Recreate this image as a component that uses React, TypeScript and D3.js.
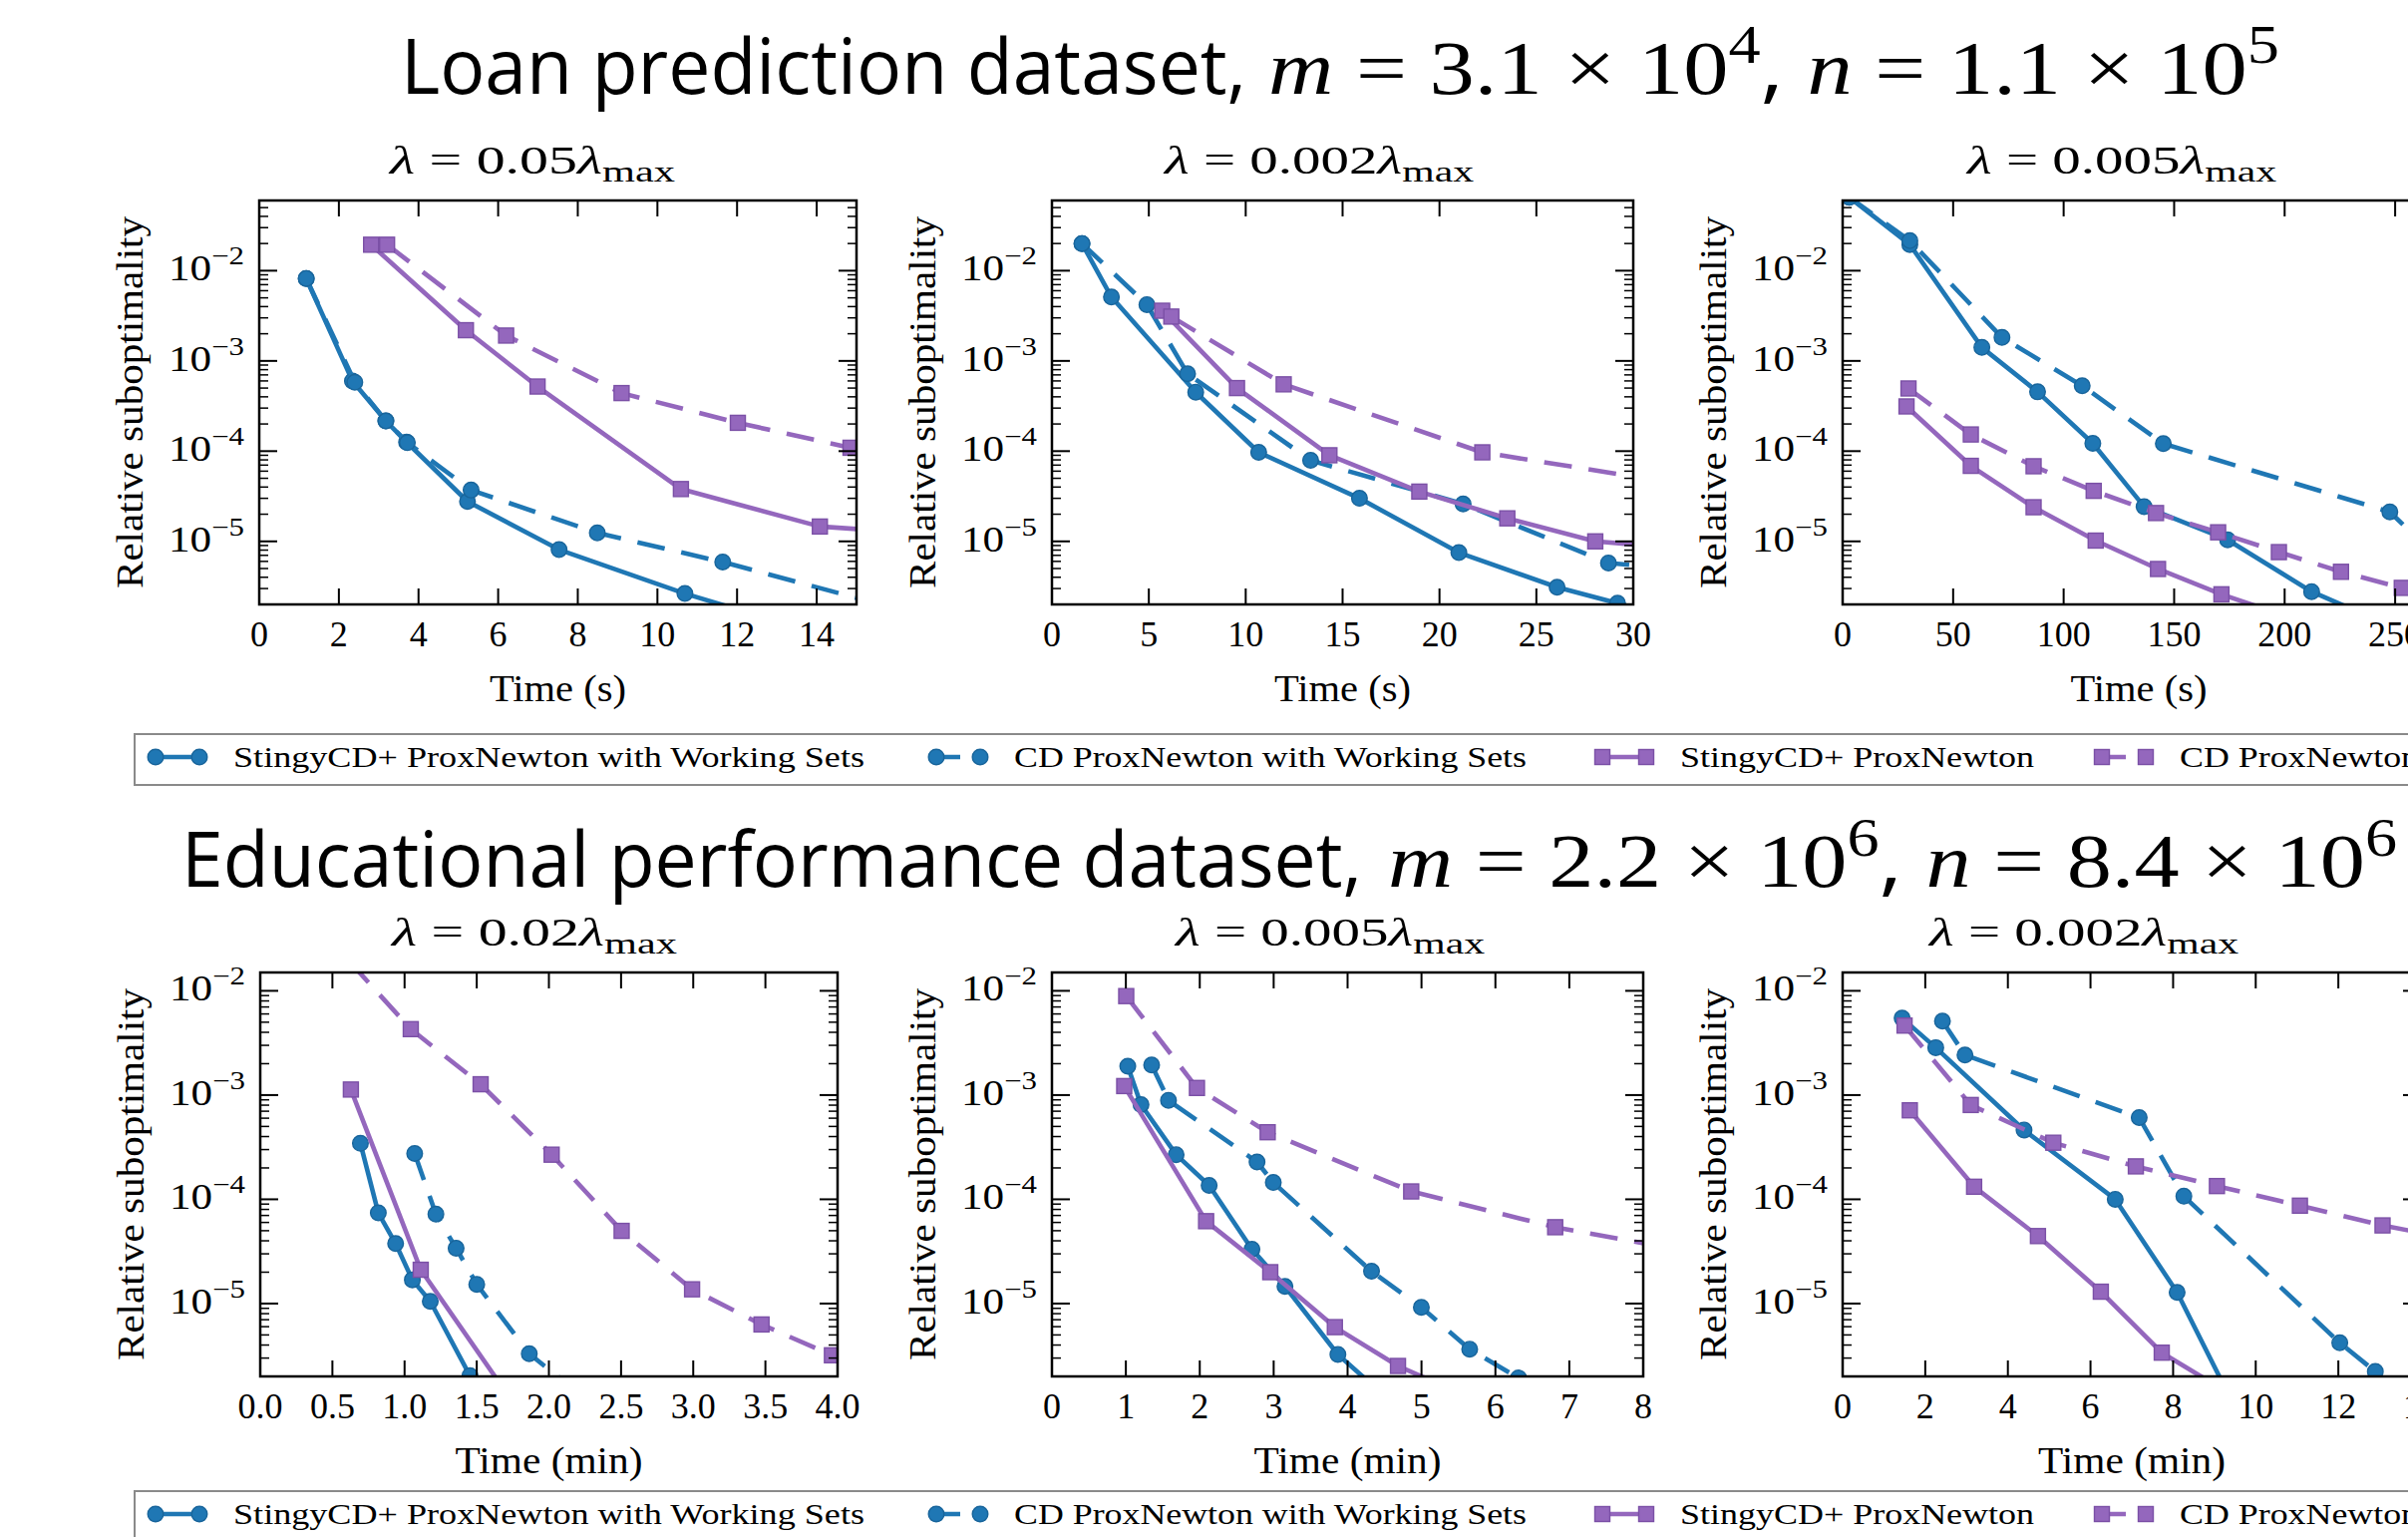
import * as d3 from "d3";

type Pt = [number, number];

// Loan prediction dataset, λ = 0.05 λmax (time in s)
const loanA_stingyWS: Pt[] = [[1.18, 8.2e-3], [2.34, 6.0e-4], [3.18, 2.16e-4], [3.7, 1.26e-4], [5.23, 2.77e-5], [7.53, 8.1e-6], [10.69, 2.64e-6], [13.7, 1.05e-6]];
const loanA_cdWS: Pt[] = [[1.18, 8.2e-3], [2.4, 5.8e-4], [3.18, 2.16e-4], [3.72, 1.24e-4], [5.32, 3.7e-5], [8.49, 1.24e-5], [11.64, 5.9e-6], [15.8, 1.9e-6]];
const loanA_stingy: Pt[] = [[2.81, 1.94e-2], [5.19, 2.19e-3], [6.99, 5.2e-4], [10.59, 3.8e-5], [14.08, 1.46e-5], [17, 1.2e-5]];
const loanA_cd: Pt[] = [[3.21, 1.94e-2], [6.2, 1.91e-3], [9.1, 4.4e-4], [12.02, 2.06e-4], [14.85, 1.09e-4]];

// Loan prediction dataset, λ = 0.002 λmax
const loanB_stingyWS: Pt[] = [[1.55, 2.0e-2], [3.07, 5.1e-3], [7.42, 4.5e-4], [10.67, 9.7e-5], [15.87, 3.0e-5], [21.0, 7.5e-6], [26.07, 3.1e-6], [29.19, 2.06e-6], [32, 1.4e-6]];
const loanB_cdWS: Pt[] = [[1.55, 2.0e-2], [4.9, 4.2e-3], [7.0, 7.2e-4], [13.35, 7.9e-5], [21.22, 2.6e-5], [28.72, 5.75e-6], [32, 5.0e-6]];
const loanB_stingy: Pt[] = [[5.69, 3.6e-3], [9.55, 5.0e-4], [14.32, 9.0e-5], [18.96, 3.56e-5], [23.5, 1.8e-5], [28.04, 1.0e-5], [32, 8.5e-6]];
const loanB_cd: Pt[] = [[6.16, 3.1e-3], [11.96, 5.5e-4], [22.21, 9.7e-5], [32.5, 4.3e-5]];

// Loan prediction dataset, λ = 0.005 λmax
const loanC_stingyWS: Pt[] = [[3, 6.5e-2], [30.4, 1.95e-2], [63.0, 1.41e-3], [88.2, 4.54e-4], [113.2, 1.22e-4], [136.4, 2.43e-5], [174.2, 1.04e-5], [212.2, 2.77e-6], [250, 1.1e-6]];
const loanC_cdWS: Pt[] = [[3, 6.5e-2], [30.4, 2.15e-2], [72.1, 1.82e-3], [108.4, 5.3e-4], [145.1, 1.21e-4], [247.6, 2.12e-5], [268, 7e-6]];
const loanC_stingy: Pt[] = [[28.9, 3.13e-4], [58.0, 6.87e-5], [86.4, 2.39e-5], [114.5, 1.02e-5], [142.7, 4.94e-6], [171.4, 2.59e-6], [200, 1.5e-6]];
const loanC_cd: Pt[] = [[29.8, 4.95e-4], [58.0, 1.53e-4], [86.4, 6.8e-5], [113.6, 3.63e-5], [141.8, 2.06e-5], [169.9, 1.26e-5], [197.4, 7.6e-6], [225.5, 4.6e-6], [253.0, 3.05e-6]];

// Educational performance dataset, λ = 0.02 λmax (time in min)
const eduA_stingyWS: Pt[] = [[0.694, 3.44e-4], [0.818, 7.4e-5], [0.938, 3.76e-5], [1.054, 1.69e-5], [1.178, 1.05e-5], [1.453, 2.03e-6], [1.6, 1.0e-6]];
const eduA_cdWS: Pt[] = [[1.07, 2.75e-4], [1.217, 7.2e-5], [1.357, 3.4e-5], [1.5, 1.53e-5], [1.864, 3.3e-6], [2.2, 1.4e-6]];
const eduA_stingy: Pt[] = [[0.628, 1.13e-3], [1.112, 2.11e-5], [1.8, 9e-7]];
const eduA_cd: Pt[] = [[0.62, 1.9e-2], [1.043, 4.29e-3], [1.527, 1.27e-3], [2.019, 2.68e-4], [2.504, 4.98e-5], [2.992, 1.37e-5], [3.473, 6.3e-6], [3.961, 3.19e-6]];

// Educational performance dataset, λ = 0.005 λmax
const eduB_stingyWS: Pt[] = [[1.026, 1.89e-3], [1.205, 8.1e-4], [1.68, 2.68e-4], [2.127, 1.36e-4], [2.706, 3.32e-5], [3.153, 1.46e-5], [3.869, 3.25e-6], [4.5, 1.3e-6]];
const eduB_cdWS: Pt[] = [[1.349, 1.94e-3], [1.577, 8.9e-4], [2.775, 2.28e-4], [2.995, 1.45e-4], [4.324, 2.04e-5], [4.998, 9.2e-6], [5.652, 3.65e-6], [6.313, 1.93e-6], [6.8, 1.2e-6]];
const eduB_stingy: Pt[] = [[0.978, 1.22e-3], [2.086, 6.17e-5], [2.954, 2.0e-5], [3.828, 5.94e-6], [4.682, 2.52e-6], [5.4, 1.5e-6]];
const eduB_cd: Pt[] = [[1.005, 8.9e-3], [1.962, 1.17e-3], [2.919, 4.4e-4], [4.861, 1.19e-4], [6.809, 5.4e-5], [8.8, 3.0e-5]];

// Educational performance dataset, λ = 0.002 λmax
const eduC_stingyWS: Pt[] = [[1.44, 5.46e-3], [2.254, 2.85e-3], [4.391, 4.62e-4], [6.599, 1.0e-4], [8.097, 1.28e-5], [9.5, 1.0e-6]];
const eduC_cdWS: Pt[] = [[2.416, 5.12e-3], [2.962, 2.42e-3], [7.179, 6.07e-4], [8.26, 1.07e-4], [12.035, 4.2e-6], [12.895, 2.23e-6], [13.6, 1.0e-6]];
const eduC_stingy: Pt[] = [[1.626, 7.14e-4], [3.183, 1.32e-4], [4.728, 4.44e-5], [6.25, 1.3e-5], [7.725, 3.38e-6], [9.2, 1.5e-6]];
const eduC_cd: Pt[] = [[1.499, 4.64e-3], [3.102, 8.03e-4], [5.1, 3.49e-4], [7.098, 2.07e-4], [9.061, 1.34e-4], [11.07, 8.69e-5], [13.07, 5.62e-5], [15, 4.0e-5]];

const seriesNames = [
  "StingyCD+ ProxNewton with Working Sets",
  "CD ProxNewton with Working Sets",
  "StingyCD+ ProxNewton",
  "CD ProxNewton",
];
const seriesColors = ["#1f77b4", "#1f77b4", "#9467bd", "#9467bd"];
const seriesEdges = ["#19659b", "#19659b", "#7b50a6", "#7b50a6"];
const seriesDashed = [false, true, false, true];
const seriesMarkers = ["circle", "circle", "square", "square"];

const lambdas = ["0.05", "0.002", "0.005", "0.02", "0.005", "0.002"];
const xLabels = ["Time (s)", "Time (s)", "Time (s)", "Time (min)", "Time (min)", "Time (min)"];
const xTicksLoanA = [0, 2, 4, 6, 8, 10, 12, 14];
const xTicksLoanB = [0, 5, 10, 15, 20, 25, 30];
const xTicksLoanC = [0, 50, 100, 150, 200, 250];
const xTicksEduA = [0, 0.5, 1, 1.5, 2, 2.5, 3, 3.5, 4];
const xTicksEduB = [0, 1, 2, 3, 4, 5, 6, 7, 8];
const xTicksEduC = [0, 2, 4, 6, 8, 10, 12, 14];

const SERIF = "'Liberation Serif', 'Times New Roman', serif";
const SANS = "'Open Sans', 'DejaVu Sans', sans-serif";
const W = 2415;
const H = 1541;
const DASH = "28 17";
const LW = 4.6;

interface PanelCfg {
  lam: string;
  xlabel: string;
  xDomain: [number, number];
  xTicks: number[];
  xFmt: (v: number) => string;
  yDomain: [number, number];
  data: Pt[][];
  left: number;
  right: number;
  top: number;
  bottom: number;
  titleX: number;
}

const topRow = { top: 201, bottom: 606, yDomain: [2e-6, 6e-2] as [number, number] };
const botRow = { top: 975, bottom: 1380, yDomain: [2e-6, 1.5e-2] as [number, number] };
const intFmt = d3.format("d");
const oneFmt = d3.format(".1f");

const panels: PanelCfg[] = [
  { lam: lambdas[0], xlabel: xLabels[0], xDomain: [0, 15], xTicks: xTicksLoanA, xFmt: intFmt, yDomain: topRow.yDomain, data: [loanA_stingyWS, loanA_cdWS, loanA_stingy, loanA_cd], left: 260, right: 859, top: topRow.top, bottom: topRow.bottom, titleX: 534 },
  { lam: lambdas[1], xlabel: xLabels[1], xDomain: [0, 30], xTicks: xTicksLoanB, xFmt: intFmt, yDomain: topRow.yDomain, data: [loanB_stingyWS, loanB_cdWS, loanB_stingy, loanB_cd], left: 1055, right: 1638, top: topRow.top, bottom: topRow.bottom, titleX: 1323 },
  { lam: lambdas[2], xlabel: xLabels[2], xDomain: [0, 268], xTicks: xTicksLoanC, xFmt: intFmt, yDomain: topRow.yDomain, data: [loanC_stingyWS, loanC_cdWS, loanC_stingy, loanC_cd], left: 1848, right: 2442, top: topRow.top, bottom: topRow.bottom, titleX: 2128 },
  { lam: lambdas[3], xlabel: xLabels[3], xDomain: [0, 4], xTicks: xTicksEduA, xFmt: oneFmt, yDomain: botRow.yDomain, data: [eduA_stingyWS, eduA_cdWS, eduA_stingy, eduA_cd], left: 261, right: 840, top: botRow.top, bottom: botRow.bottom, titleX: 536 },
  { lam: lambdas[4], xlabel: xLabels[4], xDomain: [0, 8], xTicks: xTicksEduB, xFmt: intFmt, yDomain: botRow.yDomain, data: [eduB_stingyWS, eduB_cdWS, eduB_stingy, eduB_cd], left: 1055, right: 1648, top: botRow.top, bottom: botRow.bottom, titleX: 1334 },
  { lam: lambdas[5], xlabel: xLabels[5], xDomain: [0, 14], xTicks: xTicksEduC, xFmt: intFmt, yDomain: botRow.yDomain, data: [eduC_stingyWS, eduC_cdWS, eduC_stingy, eduC_cd], left: 1848, right: 2428, top: botRow.top, bottom: botRow.bottom, titleX: 2090 },
];

function Marker({ kind, cx, cy, i }: { kind: string; cx: number; cy: number; i: number }) {
  if (kind === "circle")
    return <circle cx={cx} cy={cy} r={7.8} fill={seriesColors[i]} stroke={seriesEdges[i]} strokeWidth={1.4} />;
  return <rect x={cx - 7.5} y={cy - 7.5} width={15} height={15} fill={seriesColors[i]} stroke={seriesEdges[i]} strokeWidth={1.4} />;
}

function Panel({ p, idx }: { p: PanelCfg; idx: number }) {
  const x = d3.scaleLinear().domain(p.xDomain).range([p.left, p.right]);
  const y = d3.scaleLog().domain(p.yDomain).range([p.bottom, p.top]);
  const line = d3.line<Pt>().x((d) => x(d[0])).y((d) => y(d[1]));
  const [lo, hi] = p.yDomain;
  const majors: number[] = [];
  const minors: number[] = [];
  for (let e = -7; e <= 0; e++) {
    const base = Math.pow(10, e);
    if (base >= lo && base <= hi) majors.push(base);
    for (let k = 2; k <= 9; k++) {
      const v = k * base;
      if (v >= lo && v <= hi) minors.push(v);
    }
  }
  const titleY = p.top - 27;
  const cx = (p.left + p.right) / 2;
  const cy = (p.top + p.bottom) / 2;
  return (
    <g>
      <defs>
        <clipPath id={`clip${idx}`}>
          <rect x={p.left} y={p.top} width={p.right - p.left} height={p.bottom - p.top} />
        </clipPath>
      </defs>
      <g clipPath={`url(#clip${idx})`}>
        {p.data.map((s, si) => (
          <g key={si}>
            <path
              d={line(s) || ""}
              fill="none"
              stroke={seriesColors[si]}
              strokeWidth={LW}
              strokeLinejoin="round"
              strokeDasharray={seriesDashed[si] ? DASH : undefined}
            />
            {s.map((d, di) => (
              <Marker key={di} kind={seriesMarkers[si]} cx={x(d[0])} cy={y(d[1])} i={si} />
            ))}
          </g>
        ))}
      </g>
      {/* ticks, inward on all four sides */}
      {p.xTicks.map((t) => (
        <g key={`xt${t}`} stroke="#000" strokeWidth={2}>
          <line x1={x(t)} x2={x(t)} y1={p.bottom} y2={p.bottom - 16} />
          <line x1={x(t)} x2={x(t)} y1={p.top} y2={p.top + 16} />
        </g>
      ))}
      {majors.map((v) => (
        <g key={`ym${v}`} stroke="#000" strokeWidth={2}>
          <line x1={p.left} x2={p.left + 18} y1={y(v)} y2={y(v)} />
          <line x1={p.right} x2={p.right - 18} y1={y(v)} y2={y(v)} />
        </g>
      ))}
      {minors.map((v) => (
        <g key={`yn${v}`} stroke="#000" strokeWidth={1.5}>
          <line x1={p.left} x2={p.left + 9} y1={y(v)} y2={y(v)} />
          <line x1={p.right} x2={p.right - 9} y1={y(v)} y2={y(v)} />
        </g>
      ))}
      <rect x={p.left} y={p.top} width={p.right - p.left} height={p.bottom - p.top} fill="none" stroke="#000" strokeWidth={2.5} />
      {/* tick labels */}
      {p.xTicks.map((t) => (
        <text key={`xl${t}`} x={x(t)} y={p.bottom + 42} textAnchor="middle" fontFamily={SERIF} fontSize={36}>
          {p.xFmt(t)}
        </text>
      ))}
      {majors.map((v) => (
        <text key={`yl${v}`} x={p.left - 15} y={y(v) + 10} textAnchor="end" fontFamily={SERIF} fontSize={35}
          textLength={76} lengthAdjust="spacingAndGlyphs">
          10
          <tspan fontSize={25} dy={-16}>{"\u2212" + Math.round(-Math.log10(v))}</tspan>
        </text>
      ))}
      {/* labels */}
      <text x={cx} y={p.bottom + 97} textAnchor="middle" fontFamily={SERIF} fontSize={37}
        textLength={p.xlabel.length > 8 ? 188 : 137} lengthAdjust="spacingAndGlyphs">
        {p.xlabel}
      </text>
      <text transform={`translate(${p.left - 117},${cy}) rotate(-90)`} textAnchor="middle" fontFamily={SERIF} fontSize={37}
        textLength={373} lengthAdjust="spacingAndGlyphs">
        Relative suboptimality
      </text>
      <text x={p.titleX} y={titleY} textAnchor="middle" fontFamily={SERIF} fontSize={41}
        textLength={p.lam.length > 4 ? 310 : 286} lengthAdjust="spacingAndGlyphs">
        <tspan fontStyle="italic">λ</tspan>
        {" = " + p.lam}
        <tspan fontStyle="italic">λ</tspan>
        <tspan fontSize={30} dy={8}>max</tspan>
      </text>
    </g>
  );
}

const legendMarkerX = [156, 939, 1607, 2108];
const legendTextW = [633, 514, 355, 240];

function Legend({ top }: { top: number }) {
  const cy = top + 23;
  return (
    <g>
      <rect x={135} y={top} width={2400} height={51} fill="#fff" stroke="#8a8a8a" strokeWidth={2} />
      {seriesNames.map((name, i) => {
        const x0 = legendMarkerX[i];
        const x1 = x0 + 44;
        return (
          <g key={name}>
            <line x1={x0} x2={x1} y1={cy} y2={cy} stroke={seriesColors[i]} strokeWidth={LW}
              strokeDasharray={seriesDashed[i] ? "24 16" : undefined} />
            <Marker kind={seriesMarkers[i]} cx={x0} cy={cy} i={i} />
            <Marker kind={seriesMarkers[i]} cx={x1} cy={cy} i={i} />
            <text x={x0 + 78} y={cy + 10} fontFamily={SERIF} fontSize={29}
              textLength={legendTextW[i]} lengthAdjust="spacingAndGlyphs">
              {name}
            </text>
          </g>
        );
      })}
    </g>
  );
}

function MainTitle({ x, y, nameW, mathX, mathW, name, m, mExp, n, nExp }: {
  x: number; y: number; nameW: number; mathX: number; mathW: number;
  name: string; m: string; mExp: string; n: string; nExp: string;
}) {
  return (
    <g>
      <text x={x} y={y} fontFamily={SANS} fontSize={76} textLength={nameW} lengthAdjust="spacingAndGlyphs">
        {name + ","}
      </text>
      <text x={mathX} y={y} fontFamily={SERIF} fontSize={76} textLength={mathW} lengthAdjust="spacingAndGlyphs">
        <tspan fontStyle="italic">m</tspan>
        {" = " + m + " × 10"}
        <tspan fontSize={54} dy={-31}>{mExp}</tspan>
        <tspan fontFamily={SANS} dy={31}>{", "}</tspan>
        <tspan fontStyle="italic">n</tspan>
        {" = " + n + " × 10"}
        <tspan fontSize={54} dy={-31}>{nExp}</tspan>
      </text>
    </g>
  );
}

export default function App() {
  return (
    <svg width={W} height={H} viewBox={`0 0 ${W} ${H}`} style={{ position: "absolute", left: 0, top: 0, background: "#fff" }}>
      <rect width={W} height={H} fill="#fff" />
      <MainTitle x={402} y={94} nameW={848} mathX={1272} mathW={1014} name="Loan prediction dataset" m="3.1" mExp="4" n="1.1" nExp="5" />
      {panels.slice(0, 3).map((p, i) => (
        <Panel key={i} p={p} idx={i} />
      ))}
      <Legend top={736} />
      <MainTitle x={182} y={889} nameW={1184} mathX={1392} mathW={1012} name="Educational performance dataset" m="2.2" mExp="6" n="8.4" nExp="6" />
      {panels.slice(3).map((p, i) => (
        <Panel key={i + 3} p={p} idx={i + 3} />
      ))}
      <Legend top={1495} />
    </svg>
  );
}
